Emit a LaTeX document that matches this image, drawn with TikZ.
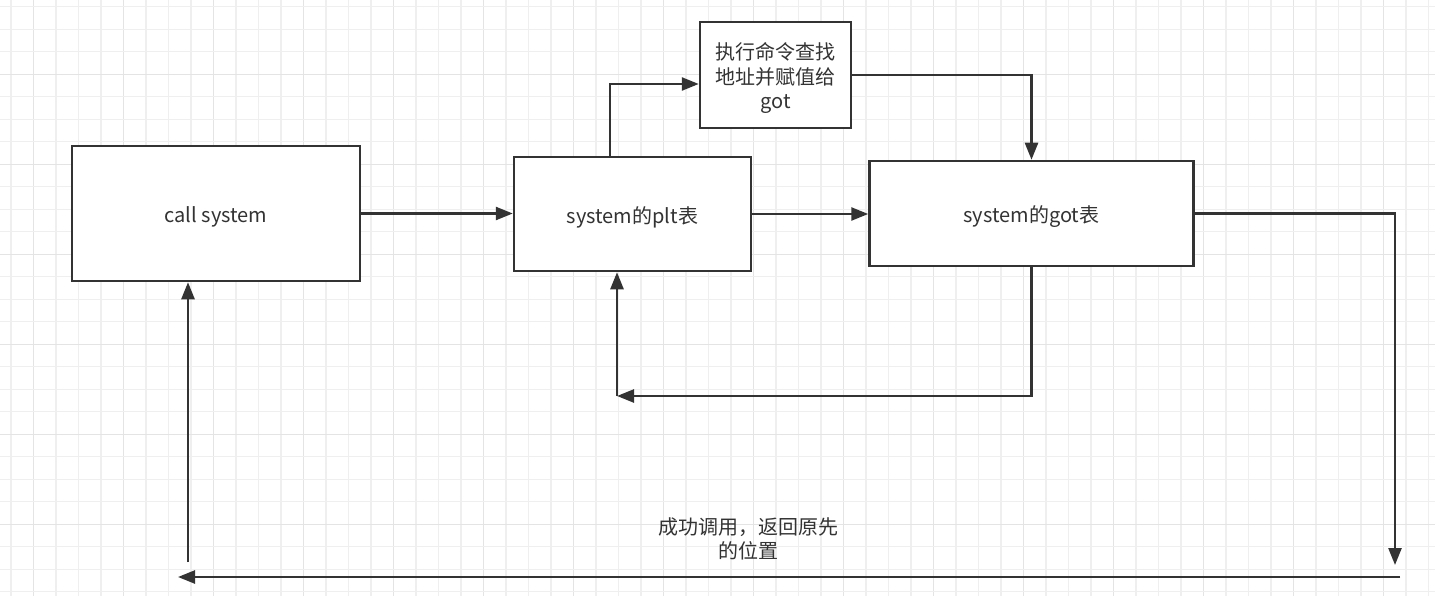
\documentclass[tikz,border=0pt]{standalone}
\usepackage{fontspec}
\setmainfont{Noto Sans CJK SC}
\usetikzlibrary{arrows.meta}
\definecolor{ln}{HTML}{333333}
\definecolor{gridminor}{HTML}{EFEFEF}
\definecolor{gridmajor}{HTML}{E4E4E4}
\tikzset{
  box/.style={draw=ln, line width=2.5pt, fill=white, inner sep=0pt},
  txt/.style={inner sep=0pt, align=center, font=\fontsize{20}{24.5}\selectfont, text=ln},
  conn/.style={draw=ln, line width=2.5pt},
  arr/.style={conn, -{Triangle[length=17pt,width=13pt]}},
  lbl/.style={inner sep=0pt, align=center, font=\fontsize{20}{24}\selectfont, text=ln}
}
\begin{document}
\begin{tikzpicture}[x=1pt,y=-1pt]
\useasboundingbox (0,0) rectangle (1435,596);
\fill[white] (0,0) rectangle (1435,596);
% grid
\foreach \k in {0,...,63} {
  \pgfmathtruncatemacro{\m}{mod(\k,4)}
  \ifnum\m=1 \def\gc{gridmajor}\else\def\gc{gridminor}\fi
  \draw[\gc, line width=1.2pt] ({11+22.5*\k},0) -- ({11+22.5*\k},596);
}
\foreach \k in {0,...,26} {
  \pgfmathtruncatemacro{\m}{mod(\k,4)}
  \ifnum\m=3 \def\gc{gridmajor}\else\def\gc{gridminor}\fi
  \draw[\gc, line width=1.2pt] (0,{6.7+22.5*\k}) -- (1435,{6.7+22.5*\k});
}
% boxes
\node[box, minimum width=288pt, minimum height=135pt] (call) at (216,213.5) {};
\node[box, minimum width=237pt, minimum height=114pt] (plt) at (632.5,214) {};
\node[box, minimum width=151pt, minimum height=106pt] (exec) at (775.5,75) {};
\node[box, minimum width=324pt, minimum height=105pt] (got) at (1031.5,213.5) {};
% box texts
\node[txt] (callt) at ([yshift=-3pt]call.center) {call system};
\node[txt] (pltt) at ([yshift=-3pt]plt.center) {system的plt表};
\node[txt] (exect) at ([yshift=-3pt]exec.center) {执行命令查找\\地址并赋值给\\got};
\node[txt] (gott) at ([yshift=-3pt]got.center) {system的got表};
% helper coordinates
\coordinate (a1) at (610,84);
\coordinate (c1) at (617,396);
\coordinate (c2) at (1395,565);
\coordinate (c3) at (1400,577);
\coordinate (c4) at (178,577);
\coordinate (c5) at (188,562);
% connectors
\draw[arr] (call.east) -- (call.east -| plt.west);
\draw[arr] (plt.east) -- (plt.east -| got.west);
\draw[arr] (a1 |- plt.north) |- (a1 -| exec.west);
\draw[arr] (exec.east) -| (got.north);
\draw[arr] (got.south) |- (c1);
\draw[arr] (c1) -- (c1 |- plt.south);
\draw[arr] (got.east) -| (c2);
\draw[arr] (c3) -- (c4);
\draw[arr] (c5) -- (c5 |- call.south);
% label
\node[lbl] (ret) at (748,539) {成功调用，返回原先\\的位置};
\end{tikzpicture}
\end{document}
